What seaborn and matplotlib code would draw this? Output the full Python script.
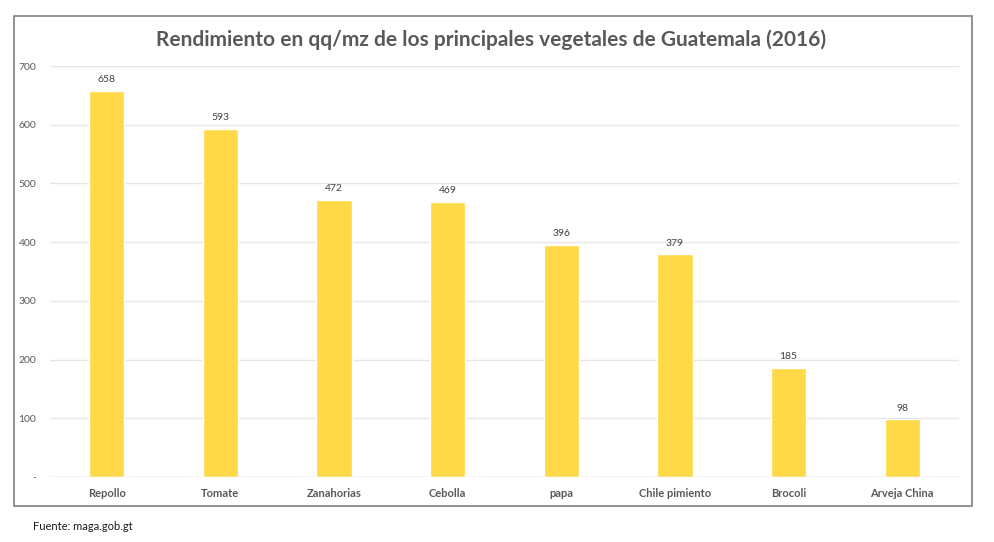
import numpy as np
import pandas as pd
import matplotlib
matplotlib.use('Agg')
import matplotlib.pyplot as plt
import seaborn as sns
from matplotlib.patches import Rectangle

# data
cultivos = ['Repollo', 'Tomate', 'Zanahorias', 'Cebolla', 'papa',
            'Chile pimiento', 'Brocoli', 'Arveja China']
rendimiento = [658, 593, 472, 469, 396, 379, 185, 98]
y_ticks = [0, 100, 200, 300, 400, 500, 600, 700]
y_tick_labels = ['-', '100', '200', '300', '400', '500', '600', '700']

sns.set_style('white')
plt.rcParams['font.family'] = ['Lato', 'DejaVu Sans']

df = pd.DataFrame({'cultivo': cultivos, 'rendimiento': rendimiento})

fig = plt.figure(figsize=(9.95, 5.42), dpi=100)
ax = fig.add_axes([0.0503, 0.1199, 0.9135, 0.7583])

sns.barplot(data=df, x='cultivo', y='rendimiento', color='#FFD947',
            saturation=1, width=0.31, ax=ax)

ax.set_ylim(0, 700)
ax.set_xlim(-0.5, len(cultivos) - 0.5)
ax.set_yticks(y_ticks)
ax.set_yticklabels(y_tick_labels)
ax.yaxis.grid(True, color='#E6E6E6', linewidth=1)
ax.set_axisbelow(True)
for s in ax.spines.values():
    s.set_visible(False)
ax.axhline(0, color='#D9D9D9', linewidth=1)
ax.tick_params(axis='y', length=0, labelsize=7.5, labelcolor='#595959', pad=10)
ax.tick_params(axis='x', length=0, labelsize=8, labelcolor='#595959', pad=8)
for lbl in ax.get_xticklabels():
    lbl.set_fontweight('bold')
ax.set_xlabel('')
ax.set_ylabel('')

ax.bar_label(ax.containers[0], fmt='%d', padding=5, fontsize=7.5, color='#404040')

fig.text(0.494, 0.926, 'Rendimiento en qq/mz de los principales vegetales de Guatemala (2016)',
         ha='center', va='center', fontsize=15, fontweight='bold', color='#595959')

# outer chart border
fig.patches.append(Rectangle((14 / 995, 1 - 506 / 542), (972 - 14) / 995, (506 - 16) / 542,
                             transform=fig.transFigure, fill=False,
                             edgecolor='#7F7F7F', linewidth=1.2))

fig.text(33 / 995, 1 - 527 / 542, 'Fuente: maga.gob.gt', ha='left', va='center',
         fontsize=8, color='#1A1A1A')

fig.savefig('out.png', dpi=100)
